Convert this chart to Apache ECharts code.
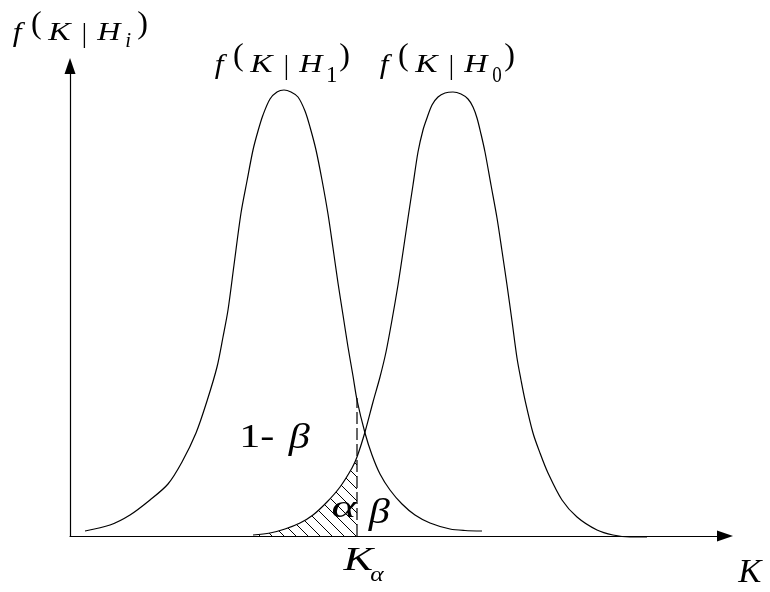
<!DOCTYPE html>
<html><head><meta charset="utf-8">
<script src="https://cdn.jsdelivr.net/npm/echarts@6/dist/echarts.min.js"></script>
<style>html,body{margin:0;padding:0;background:#fff}#c{width:770px;height:592px}</style>
</head><body><div id="c"></div>
<script>
// Abstract units: K along x, density f along y
const kH1 = [1.5, 4.0, 6.0, 8.0, 9.8, 11.2, 12.6, 13.7, 14.7, 15.3, 15.8, 16.4, 17.1, 17.7, 18.3, 18.8, 19.3, 20.0, 20.7, 21.4,
  22.1, 22.8, 23.5, 24.0, 24.6, 25.2, 25.8, 26.3, 26.8, 27.3, 27.8, 28.3, 28.7, 29.5, 30.2, 31.0, 32.0, 33.2, 34.5, 36.0, 38.0, 39.5, 41.2];
const fH1 = [0.5, 1.1, 2.1, 3.6, 5.2, 7.4, 10.3, 13.5, 16.9, 19.9, 22.6, 27.1, 32.3, 35.5, 38.6, 40.5, 42.1, 43.7, 44.4, 44.6,
  44.4, 43.9, 42.5, 40.9, 38.6, 35.6, 32.2, 28.8, 25.3, 22.1, 18.9, 16.0, 13.6, 10.3, 8.1, 6.2, 4.6, 3.2, 2.1, 1.3, 0.7, 0.55, 0.5];
const kH0 = [18.3, 20.0, 21.5, 23.0, 24.3, 25.7, 27.0, 28.2, 28.7, 29.5, 30.3, 31.0, 31.6, 32.2, 32.8, 33.3, 33.8, 34.3, 34.8, 35.3, 35.7, 36.2, 36.8, 37.5, 38.3,
  39.1, 39.8, 40.3, 40.7, 41.1, 41.5, 42.1, 42.7, 43.2, 43.7, 44.2, 44.7, 45.1, 45.5, 46.3, 47.0, 47.8, 49.2, 50.7, 52.7, 54.3, 56.0, 57.7];
const fH0 = [0.1, 0.3, 0.7, 1.3, 2.1, 3.4, 4.9, 6.8, 7.9, 10.4, 13.4, 15.9, 18.4, 21.6, 25.1, 28.4, 31.8, 35.1, 38.4, 40.6, 41.8, 43.1, 43.9, 44.3, 44.4,
  44.2, 43.7, 42.9, 41.8, 40.2, 38.4, 35.1, 31.8, 28.5, 25.1, 21.5, 17.8, 15.6, 13.6, 10.3, 8.3, 6.3, 3.6, 1.9, 0.6, 0.1, -0.1, -0.1];
const kAlpha = 28.7;
const dashTop = 13.8;

const h1Data = kH1.map((k, i) => [k, fH1[i]]);
const h0Data = kH0.map((k, i) => [k, fH0[i]]);
const hatchData = h0Data.filter(p => p[0] <= kAlpha);

function hatchPattern() {
  const s = 12;
  const c = document.createElement('canvas');
  c.width = s; c.height = s;
  const g = c.getContext('2d');
  g.strokeStyle = '#000'; g.lineWidth = 1;
  g.beginPath();
  for (const k of [-s, 0, s]) { g.moveTo(k, 0); g.lineTo(k + s, s); }
  g.stroke();
  return c;
}

// Text placement: scan the real ink of each glyph, then size/offset it to the target box
const FAM = "'Liberation Serif', serif";
function inkBox(str, italic) {
  const W = 480, H = 400, ox = 120, oy = 200;
  const c = document.createElement('canvas'); c.width = W; c.height = H;
  const g = c.getContext('2d');
  g.font = (italic ? 'italic ' : '') + '100px ' + FAM;
  g.fillStyle = '#000'; g.textAlign = 'left'; g.textBaseline = 'middle';
  g.fillText(str, ox, oy);
  const d = g.getImageData(0, 0, W, H).data;
  let x0 = 1e9, x1 = -1, y0 = 1e9, y1 = -1;
  for (let y = 0; y < H; y++) for (let x = 0; x < W; x++) {
    if (d[(y * W + x) * 4 + 3] > 100) {
      if (x < x0) x0 = x; if (x > x1) x1 = x; if (y < y0) y0 = y; if (y > y1) y1 = y;
    }
  }
  return { left: x0 - ox, right: x1 + 1 - ox, top: y0 - oy, bottom: y1 + 1 - oy };
}
function glyph(str, box, italic, fitWidth) {
  const l = box[0], tp = box[1], r = box[2], b = box[3];
  const ib = inkBox(str, italic);
  const k = (b - tp) / (ib.bottom - ib.top);
  const inkW = (ib.right - ib.left) * k;
  const sx = fitWidth ? (r - l) / inkW : 1;
  const inkLeft = fitWidth ? l : (l + r) / 2 - inkW / 2;
  return { type: 'text', x: inkLeft - ib.left * k * sx, y: tp - ib.top * k,
    scaleX: sx, silent: true,
    style: { text: str, fontFamily: FAM, fontSize: 100 * k, fontStyle: italic ? 'italic' : 'normal',
      fill: '#000', align: 'left', verticalAlign: 'middle' } };
}
function formula(x0, base, sub) {
  const isI = sub === 'i';
  return [
    glyph('f', [x0, base - 19, x0 + 12, base + 7], true, true),
    glyph('(', [x0 + 19, base - 29, x0 + 28, base], false, false),
    glyph('K', [x0 + 35, base - 17, x0 + 59, base], true, true),
    glyph('|', [x0 + 70, base - 17, x0 + 73, base + 7], false, false),
    glyph('H', [x0 + 84, base - 17, x0 + 109, base], true, true),
    isI ? glyph('i', [x0 + 112, base - 7, x0 + 119, base + 7], true, false)
        : glyph(sub, [x0 + 113, base - 5, x0 + 121, base + 10], false, true),
    glyph(')', [x0 + 125, base - 29, x0 + 134, base], false, false)
  ];
}

const graphics = [].concat(
  formula(13, 40, 'i'),
  formula(215, 72, '1'),
  formula(380, 72, '0'),
  [
    glyph('1-', [243, 425, 273, 447], false, true),
    glyph('β', [288, 423, 310, 455], true, true),
    glyph('α', [333, 502, 357, 517], true, true),
    glyph('β', [368, 498, 390, 530], true, true),
    glyph('K', [343, 548, 375, 570], true, true),
    glyph('α', [371, 571, 384, 581], true, true),
    glyph('K', [738, 560, 763, 582], true, true)
  ]
);

const axisCommon = {
  type: 'value', min: 0,
  axisLine: { show: true, onZero: false, symbol: ['none', 'triangle'], symbolSize: [11, 16],
    lineStyle: { color: '#000', width: 1.2 } },
  axisTick: { show: false }, axisLabel: { show: false }, splitLine: { show: false }
};

const chart = echarts.init(document.getElementById('c'), null, { renderer: 'canvas' });
chart.setOption({
  animation: false,
  backgroundColor: '#fff',
  grid: { left: 70, right: 45, top: 66, bottom: 56 },
  xAxis: Object.assign({}, axisCommon, { max: 65.5 }),
  yAxis: Object.assign({}, axisCommon, { max: 47 }),
  series: [
    { type: 'line', data: hatchData, smooth: 0.3, showSymbol: false, clip: false,
      lineStyle: { width: 0, opacity: 0 },
      areaStyle: { color: { image: hatchPattern(), repeat: 'repeat' }, opacity: 1 }, z: 1 },
    { type: 'line', data: h1Data, smooth: 0.3, showSymbol: false, clip: false,
      lineStyle: { color: '#000', width: 1.2 }, z: 3 },
    { type: 'line', data: h0Data, smooth: 0.3, showSymbol: false, clip: false,
      lineStyle: { color: '#000', width: 1.2 }, z: 3 },
    { type: 'line', data: [[kAlpha, 0], [kAlpha, dashTop]], showSymbol: false, clip: false,
      lineStyle: { color: '#000', width: 1.2, type: [12, 4] }, z: 3 }
  ],
  graphic: graphics
});
</script>
</body></html>
